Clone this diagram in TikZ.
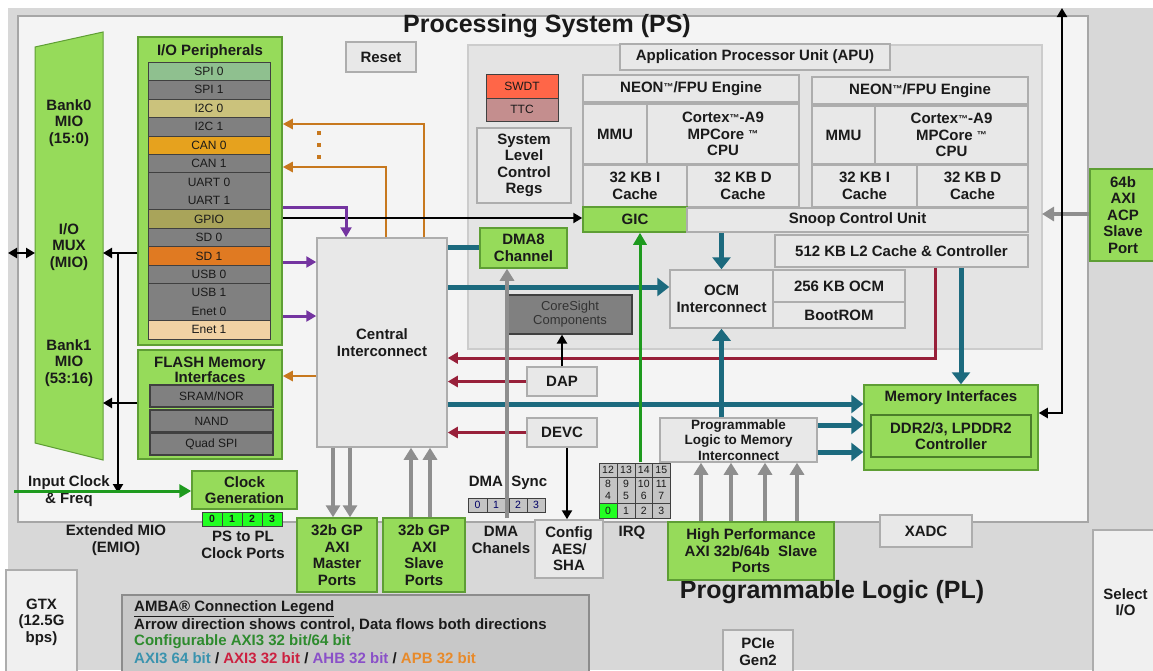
\documentclass[tikz,border=0pt]{standalone}
\usepackage{fontspec}
\setmainfont{Liberation Sans}
\usetikzlibrary{arrows.meta}
\definecolor{outerg}{HTML}{D8D8D8}
\definecolor{psbg}{HTML}{F4F4F4}
\definecolor{apubg}{HTML}{E4E4E4}
\definecolor{boxfill}{HTML}{E8E8E8}
\definecolor{boxedge}{HTML}{ADADAD}
\definecolor{grn}{HTML}{96DB5A}
\definecolor{grnedge}{HTML}{5E9E34}
\definecolor{dgray}{HTML}{808080}
\definecolor{tealc}{HTML}{1C6A7E}
\definecolor{redc}{HTML}{98203A}
\definecolor{purc}{HTML}{7434A0}
\definecolor{orgc}{HTML}{C7781E}
\definecolor{grayc}{HTML}{8E8E8E}
\definecolor{grnline}{HTML}{1E9A1E}
\definecolor{txt}{HTML}{1A1A1A}
\definecolor{sage}{HTML}{8FC08F}
\definecolor{khaki}{HTML}{CBC27C}
\definecolor{canzero}{HTML}{E6A21E}
\definecolor{olive}{HTML}{A9A45A}
\definecolor{sdone}{HTML}{E07A22}
\definecolor{enetone}{HTML}{F1D2A4}
\definecolor{swdtc}{HTML}{FF6648}
\definecolor{ttcc}{HTML}{C48E8E}
\definecolor{limec}{HTML}{22FF22}
\definecolor{cellg}{HTML}{C4C4C4}
\definecolor{legbg}{HTML}{C8C8C8}
\definecolor{legteal}{HTML}{3A93AE}
\definecolor{legred}{HTML}{CC2040}
\definecolor{legpur}{HTML}{8A50C8}
\definecolor{legorg}{HTML}{E88A2A}
\definecolor{leggrn}{HTML}{2E8B2E}
\newcommand\fntB{\fontsize{15}{16.5}\selectfont\bfseries}
\newcommand\fntM{\fontsize{13.5}{15.5}\selectfont\bfseries}
\newcommand\fntR{\fontsize{12}{14}\selectfont}
\newcommand\fntS{\fontsize{10.5}{12}\selectfont}
\newcommand\fntT{\fontsize{25}{28}\selectfont\bfseries}
\newcommand\smalltm{{\fontsize{10}{10}\selectfont\raisebox{1.5pt}{™}}}
\begin{document}
\begin{tikzpicture}[x=1pt,y=-1pt,
  corners/.style args={#1/#2/#3/#4}{at={({(#1+#3)/2},{(#2+#4)/2})}, anchor=center,
     minimum width={(#3-#1)*1pt}, minimum height={(#4-#2)*1pt}},
  lbox/.style={draw=boxedge, fill=boxfill, line width=1.5pt, inner sep=0pt, align=center, font=\fntB, text=txt},
  gbox/.style={lbox, draw=grnedge, fill=grn},
  cell/.style={draw=black!75, line width=0.8pt, inner sep=0pt, align=center, font=\fntR, text=txt},
  lbl/.style={inner sep=0pt, align=center, font=\fntB, text=txt},
  blkarrow/.style={draw=black, line width=2.5pt, -{Triangle[length=9pt,width=10pt]}},
  blkdbl/.style={draw=black, line width=2.5pt, {Triangle[length=9pt,width=10pt]}-{Triangle[length=9pt,width=10pt]}},
  tealarrow/.style={draw=tealc, line width=5pt, -{Triangle[length=12pt,width=18pt]}},
  tealline/.style={draw=tealc, line width=5pt},
  redarrow/.style={draw=redc, line width=3pt, -{Triangle[length=10pt,width=11pt]}},
  purarrow/.style={draw=purc, line width=3pt, -{Triangle[length=10pt,width=11pt]}},
  apbarrow/.style={draw=orgc, line width=2.5pt, -{Triangle[length=10pt,width=10pt]}},
  grayarrow/.style={draw=grayc, line width=3.5pt, -{Triangle[length=12pt,width=14pt]}},
  grnarrow/.style={draw=grnline, line width=3pt, -{Triangle[length=12pt,width=13pt]}}]
\useasboundingbox (0,0) rectangle (1153,670);
% backgrounds
\fill[white] (0,0) rectangle (1153,670);
\fill[outerg] (8,8) rectangle (1153,670);
\draw[fill=psbg, draw=black!35, line width=1.5pt] (18,16) rectangle (1088,522);
\draw[fill=apubg, draw=black!20, line width=1.5pt] (468,45) rectangle (1042,349);
% titles
\node[lbl, font=\fntT] (pstitle) at (547,26) {Processing System (PS)};
\node[lbl, font=\fntT] (pltitle) at (832,592) {Programmable Logic (PL)};
% MIO
\draw[fill=grn, draw=grnedge, line width=1pt] (35,47) -- (103,32) -- (103,460) -- (35,443) -- cycle;
\node[lbl] (bank0) at (69,123) {Bank0\\MIO\\(15:0)};
\node[lbl] (mux) at (69,247) {I/O\\MUX\\(MIO)};
\node[lbl] (bank1) at (69,363) {Bank1\\MIO\\(53:16)};
% I/O peripherals
\node[gbox, corners=138/37/282/345] (iop) {};
\node[lbl] (ioptitle) at (210,52) {I/O Peripherals};
\node[cell, fill=sage, corners=148/62/270/80.5] (spi0) {SPI 0};
\node[cell, fill=dgray, corners=148/80.5/270/98.9] (spi1) {SPI 1};
\node[cell, fill=khaki, corners=148/98.9/270/117.4] (i2c0) {I2C 0};
\node[cell, fill=dgray, corners=148/117.4/270/135.9] (i2c1) {I2C 1};
\node[cell, fill=canzero, corners=148/135.9/270/154.3] (can0) {CAN 0};
\node[cell, fill=dgray, corners=148/154.3/270/172.8] (can1) {CAN 1};
\node[cell, fill=dgray, corners=148/172.8/270/209.8] (uart) {};
\node[lbl, font=\fntR] (uart0) at (209,182) {UART 0};
\node[lbl, font=\fntR] (uart1) at (209,200.5) {UART 1};
\node[cell, fill=olive, corners=148/209.8/270/228.2] (gpio) {GPIO};
\node[cell, fill=dgray, corners=148/228.2/270/246.7] (sd0) {SD 0};
\node[cell, fill=sdone, corners=148/246.7/270/265.2] (sd1) {SD 1};
\node[cell, fill=dgray, corners=148/265.2/270/283.6] (usb0) {USB 0};
\node[cell, fill=dgray, corners=148/283.6/270/320.6] (usbenet) {};
\node[lbl, font=\fntR] (usb1) at (209,292.8) {USB 1};
\node[lbl, font=\fntR] (enet0) at (209,311.3) {Enet 0};
\node[cell, fill=enetone, corners=148/320.6/270/339] (enet1) {Enet 1};
% flash
\node[gbox, corners=138/350/282/459] (flash) {};
\node[lbl, font=\fontsize{15}{14.5}\selectfont\bfseries] (flashtitle) at (210,370) {FLASH Memory\\Interfaces};
\node[cell, fill=dgray, line width=1.2pt, corners=150/385/273/407] (sram) {SRAM/NOR};
\node[cell, fill=dgray, line width=1.2pt, corners=150/410/273/432] (nand) {NAND};
\node[cell, fill=dgray, line width=1.2pt, corners=150/433/273/455] (qspi) {Quad SPI};
% clock
\node[gbox, corners=192/471/297/509] (clkgen) {Clock\\Generation};
\foreach \x/\t in {202/0,222/1,242/2,262/3}
  \node[cell, fill=limec, font=\fntS\bfseries, corners=\x/512/\x+20/526] (clk\t) {\t};
\node[lbl] (clklbl) at (243,545) {PS to PL\\Clock Ports};
\node[lbl] (inclk) at (69,491) {Input Clock\\\& Freq};
\node[lbl] (emio) at (116,540) {Extended MIO\\(EMIO)};
% central
\node[lbox, corners=317/238/447/447] (ci) {Central\\Interconnect};
\node[lbox, corners=346/42/416/72] (reset) {Reset};
% APU
\node[lbox, corners=620/44/890/70] (apu) {Application Processor Unit (APU)};
\node[cell, fill=swdtc, line width=1pt, corners=486/74/558/98] (swdt) {SWDT};
\node[cell, fill=ttcc, line width=1pt, corners=486/98/558/121] (ttc) {TTC};
\node[lbox, corners=477/128/571/203] (slcr) {System\\Level\\Control\\Regs};
\node[lbox, corners=583/75/799/102] (neon0) {NEON\smalltm/FPU Engine};
\node[lbox, corners=583/104/647/164] (mmu0) {MMU};
\node[lbox, corners=647/104/799/164] (cpu0) {Cortex\smalltm-A9\\MPCore \smalltm\\CPU};
\node[lbox, corners=583/165/687/207] (ic0) {32 KB I\\Cache};
\node[lbox, corners=687/165/799/207] (dc0) {32 KB D\\Cache};
\node[lbox, corners=812/77/1028/104] (neon1) {NEON\smalltm/FPU Engine};
\node[lbox, corners=812/106/875/164] (mmu1) {MMU};
\node[lbox, corners=875/106/1028/164] (cpu1) {Cortex\smalltm-A9\\MPCore \smalltm\\CPU};
\node[lbox, corners=812/165/917/207] (ic1) {32 KB I\\Cache};
\node[lbox, corners=917/165/1028/207] (dc1) {32 KB D\\Cache};
\node[gbox, corners=583/207/687/232] (gic) {GIC};
\node[lbox, corners=687/208/1028/232] (scu) {Snoop Control Unit};
\node[lbox, corners=775/235/1028/267] (l2) {512 KB L2 Cache \& Controller};
\node[lbox, corners=670/270/773/328] (ocmi) {OCM\\Interconnect};
\node[lbox, corners=773/270/905/302] (ocm) {256 KB OCM};
\node[lbox, corners=773/302/905/328] (bootrom) {BootROM};
\node[gbox, corners=480/228/567/268] (dma8) {DMA8\\Channel};
\node[cell, fill=dgray, line width=1.2pt, font=\fontsize{13}{14}\selectfont, text=black!80, corners=508/295/632/334] (coresight) {CoreSight\\Components};
\node[lbox, corners=527/367/597/396] (dap) {DAP};
\node[lbox, corners=527/418/597/447] (devc) {DEVC};
\node[lbox, font=\fntM, corners=660/418/817/462] (plmi) {Programmable\\Logic to Memory\\Interconnect};
\node[gbox, corners=864/385/1038/470] (memif) {};
\node[lbl] (memiftitle) at (951,398) {Memory Interfaces};
\node[gbox, draw=grnedge!80!black, corners=871/415/1031/457] (ddr) {DDR2/3, LPDDR2\\Controller};
\node[gbox, corners=1090/169/1156/261] (acp) {64b\\AXI\\ACP\\Slave\\Port};
% PL side
\node[gbox, corners=297/518/377/592] (gpm) {32b GP\\AXI\\Master\\Ports};
\node[gbox, corners=383/518/465/592] (gps) {32b GP\\AXI\\Slave\\Ports};
\node[lbl] (dmasynclbl) at (508,483) {DMA\ \ Sync};
\node[cell, fill=cellg, font=\fntS, text=blue!40!black, corners=468/498/487/512] (ds0) {0};
\node[cell, fill=cellg, font=\fntS, text=blue!40!black, corners=487/498/505/512] (ds1) {1};
\node[cell, fill=cellg, font=\fntS, text=blue!40!black, corners=509/498/527/512] (ds2) {2};
\node[cell, fill=cellg, font=\fntS, text=blue!40!black, corners=527/498/545/512] (ds3) {3};
\node[lbl] (dmach) at (501,540) {DMA\\Chanels};
\node[lbox, corners=535/520/603/578] (config) {Config\\AES/\\SHA};
\foreach \a/\b/\t [count=\i] in {599/617/12,617/635/13,635/652.5/14,652.5/670/15}
  \node[cell, fill=cellg, font=\fntS, corners=\a/463/\b/477] (irqa\i) {\t};
\foreach \a/\b/\t [count=\i] in {599/617/{8\\4},617/635/{9\\5},635/652.5/{10\\6},652.5/670/{11\\7}}
  \node[cell, fill=cellg, font=\fntS, corners=\a/477/\b/503] (irqb\i) {\t};
\node[cell, fill=limec, font=\fntS, corners=599/503/617/518] (irqc1) {0};
\foreach \a/\b/\t [count=\i from 2] in {617/635/1,635/652.5/2,652.5/670/3}
  \node[cell, fill=cellg, font=\fntS, corners=\a/503/\b/518] (irqc\i) {\t};
\node[lbl] (irqlbl) at (632,533) {IRQ};
\node[gbox, corners=668/522/834/580] (hp) {High Performance\\AXI 32b/64b\ \ Slave\\Ports};
\node[lbox, corners=880/515/972/547] (xadc) {XADC};
\node[lbox, corners=723/630/793/674] (pcie) {PCIe\\Gen2};
\node[lbox, fill=black!6, corners=1093/530/1158/674] (selio) {Select\\I/O};
\node[lbox, fill=black!6, corners=6/570/77/674] (gtx) {GTX\\(12.5G\\bps)};
% legend
\node[lbox, fill=legbg, draw=black!45, corners=122/595/589/674] (legend) {};
\node[lbl, anchor=west] (leg1) at (134,609) {\underline{AMBA® Connection Legend}};
\node[lbl, anchor=west] (leg2) at (134,625) {Arrow direction shows control, Data flows both directions};
\node[lbl, anchor=west, text=leggrn] (leg3) at (134,642) {Configurable AXI3 32 bit/64 bit};
\node[lbl, anchor=west] (leg4) at (134,658) {\textcolor{legteal}{AXI3 64 bit} / \textcolor{legred}{AXI3 32 bit} / \textcolor{legpur}{AHB 32 bit} / \textcolor{legorg}{APB 32 bit}};
% coordinates
\coordinate (edgeL) at (8,253);
\coordinate (mioL) at (35,253);
\coordinate (mioR) at (103,253);
\coordinate (mioR2) at (103,403);
\coordinate (emioT) at (118,253);
\coordinate (emioB) at (118,493);
\coordinate (clkin) at (14,491);
\coordinate (o1) at (424,124);
\coordinate (o2) at (386,167);
\coordinate (o3) at (300,376);
\coordinate (p1) at (346,207);
\coordinate (p2) at (300,262);
\coordinate (p3) at (300,316);
\coordinate (k1) at (300,218);
\coordinate (k2) at (567,480);
\coordinate (t1) at (460,247);
\coordinate (t2) at (460,287);
\coordinate (t3) at (460,404);
\coordinate (t4) at (840,425);
\coordinate (t5) at (840,452);
\coordinate (t6) at (961,300);
\coordinate (r1) at (935,358);
\coordinate (g1) at (507,518);
\coordinate (irqtop) at (640,462);
\coordinate (ga1) at (333,480);
\coordinate (ga2) at (350,480);
\coordinate (gb1) at (411,480);
\coordinate (gb2) at (430,480);
\coordinate (gc1) at (701,490);
\coordinate (gc2) at (731,490);
\coordinate (gc3) at (765,490);
\coordinate (gc4) at (797,490);
\coordinate (apuR) at (1042,214);
\coordinate (kx) at (1062,413);
\coordinate (ktop) at (1062,8);
% connectors
\draw[blkdbl] (edgeL) -- (mioL);
\draw[blkarrow] (iop.west |- mioR) -- (mioR);
\draw[blkarrow] (emioT) -- (emioB);
\draw[blkarrow] (flash.west |- mioR2) -- (mioR2);
\draw[grnarrow] (clkin) -- (clkgen.west |- clkin);
\draw[apbarrow] (ci.north -| o1) -- (o1) -- (iop.east |- o1);
\draw[apbarrow] (ci.north -| o2) -- (o2) -- (iop.east |- o2);
\foreach \yy in {133,145,157} \fill[orgc] (317,\yy-2) rectangle (321,\yy+2);
\draw[apbarrow] (ci.west |- o3) -- (flash.east |- o3);
\draw[blkarrow] (iop.east |- k1) -- (gic.west |- k1);
\draw[purarrow] (iop.east |- p1) -- (p1) -- (ci.north -| p1);
\draw[purarrow] (iop.east |- p2) -- (ci.west |- p2);
\draw[purarrow] (iop.east |- p3) -- (ci.west |- p3);
\draw[redarrow] (l2.south -| r1) -- (r1) -- (ci.east |- r1);
\draw[redarrow] (dap.west) -- (ci.east |- dap.west);
\draw[redarrow] (devc.west) -- (ci.east |- devc.west);
\draw[tealline] (ci.east |- t1) -- (dma8.west |- t1);
\draw[tealarrow] (ci.east |- t2) -- (ocmi.west |- t2);
\draw[tealarrow] (ci.east |- t3) -- (memif.west |- t3);
\draw[tealarrow] (scu.south -| ocmi.north) -- (ocmi.north);
\draw[tealarrow] (plmi.north -| ocmi.south) -- (ocmi.south);
\draw[tealarrow] (plmi.east |- t4) -- (memif.west |- t4);
\draw[tealarrow] (plmi.east |- t5) -- (memif.west |- t5);
\draw[tealarrow] (l2.south -| t6) -- (memif.north -| t6);
\draw[blkarrow] (dap.north) -- (coresight.south -| dap.north);
\draw[blkarrow] (devc.south -| k2) -- (config.north -| k2);
\draw[grayarrow] (g1) -- (dma8.south -| g1);
\draw[grnarrow] (irqtop) -- (gic.south -| irqtop);
\draw[grayarrow] (ci.south -| ga1) -- (gpm.north -| ga1);
\draw[grayarrow] (ci.south -| ga2) -- (gpm.north -| ga2);
\draw[grayarrow] (gps.north -| gb1) -- (ci.south -| gb1);
\draw[grayarrow] (gps.north -| gb2) -- (ci.south -| gb2);
\draw[grayarrow] (hp.north -| gc1) -- (plmi.south -| gc1);
\draw[grayarrow] (hp.north -| gc2) -- (plmi.south -| gc2);
\draw[grayarrow] (hp.north -| gc3) -- (plmi.south -| gc3);
\draw[grayarrow] (hp.north -| gc4) -- (plmi.south -| gc4);
\draw[grayarrow] (acp.west |- apuR) -- (apuR);
\draw[blkdbl] (memif.east |- kx) -- (kx) -- (ktop);
\end{tikzpicture}
\end{document}
